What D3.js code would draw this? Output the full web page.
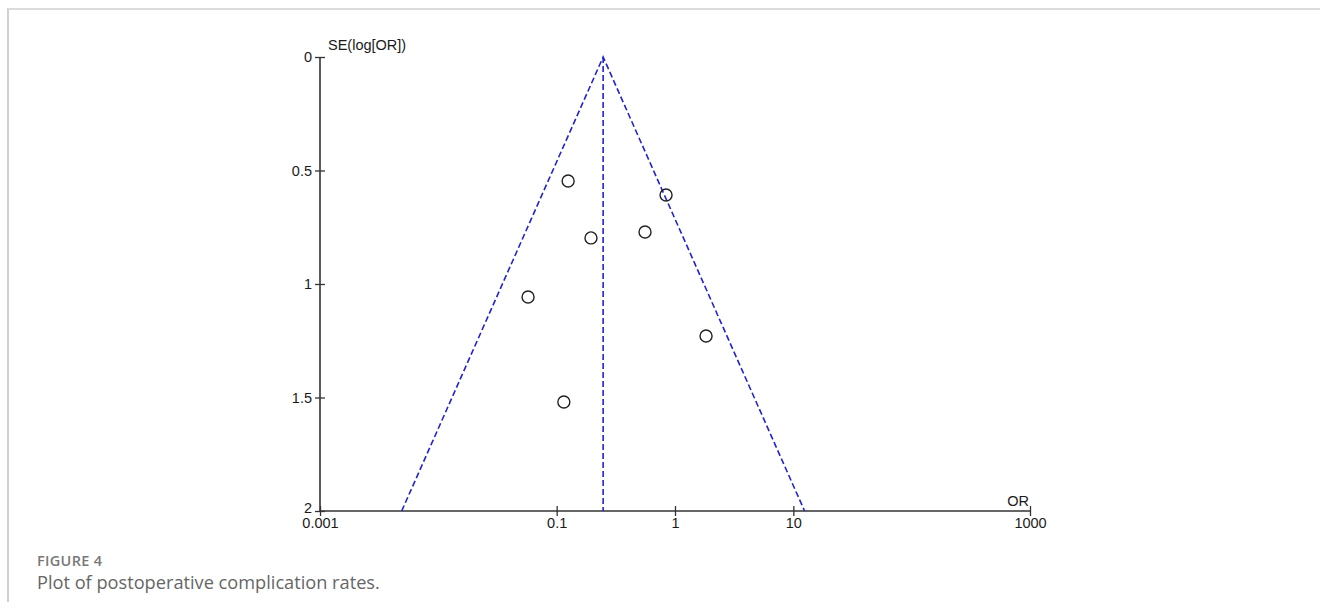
<!DOCTYPE html>
<html>
<head>
<meta charset="utf-8">
<style>
    body {
        margin: 0;
        background: #fff;
        font-family: 'Liberation Sans', Arial, sans-serif;
    }
    .frame {
        position: absolute;
        left: 7px;
        top: 8px;
        width: 1320px;
        height: 592px;
        border-top: 2px solid #dcdcdc;
        border-left: 2px solid #d0d0d0;
    }
    svg {
        position: absolute;
        left: 0;
        top: 0;
    }
    .tick text {
        font-size: 14.5px;
        fill: #1a1a1a;
    }
    .caption {
        position: absolute;
        left: 37px;
        top: 551px;
        font-family: 'Open Sans', 'Noto Sans', sans-serif;
        color: #6b6b6b;
    }
    .caption .fig {
        font-size: 14.5px;
        font-weight: 600;
        color: #787878;
        letter-spacing: 0.3px;
    }
    .caption .txt {
        font-size: 18.2px;
        margin-top: 0px;
        color: #666;
    }
</style>
</head>
<body>
<div class="frame"></div>
<svg width="1320" height="613"></svg>
<div class="caption">
    <div class="fig">FIGURE 4</div>
    <div class="txt">Plot of postoperative complication rates.</div>
</div>

<script src="https://d3js.org/d3.v7.min.js"></script>
<script>
    // study estimates
    let studyOR = [0.125, 0.84, 0.195, 0.558, 0.0573, 1.83, 0.115]
    let studySE = [0.546, 0.608, 0.797, 0.771, 1.057, 1.229, 1.520]
    let pooledOR = 0.247

    let xTicks = [0.001, 0.1, 1, 10, 1000]
    let yTicks = [0, 0.5, 1, 1.5, 2]

    let svg = d3.select("svg")

    let x = d3.scaleLog()
        .domain([0.001, 1000])
        .range([320, 1030])

    let y = d3.scaleLinear()
        .domain([0, 2])
        .range([57, 511])

    let axisColor = "#333"

    // axes
    let xAxis = svg.append("g")
        .attr("class", "x axis")
        .attr("transform", `translate(0,${y(2)})`)
        .call(d3.axisBottom(x)
            .tickValues(xTicks)
            .tickSize(5)
            .tickPadding(2)
            .tickFormat(d => String(d)))
    xAxis.select(".domain").remove()
    xAxis.selectAll(".tick line")
        .attr("y1", -5)
        .attr("y2", 5)
        .attr("stroke", axisColor)
        .attr("stroke-width", 1.3)
    xAxis.append("line")
        .attr("x1", x(0.001))
        .attr("x2", x(1000))
        .attr("stroke", axisColor)
        .attr("stroke-width", 1.6)

    let yAxis = svg.append("g")
        .attr("class", "y axis")
        .attr("transform", `translate(${x(0.001)},0)`)
        .call(d3.axisLeft(y)
            .tickValues(yTicks)
            .tickSize(5)
            .tickPadding(3)
            .tickFormat(d => String(d)))
    yAxis.select(".domain").remove()
    yAxis.selectAll(".tick line")
        .attr("x1", -5)
        .attr("x2", 5)
        .attr("stroke", axisColor)
        .attr("stroke-width", 1.3)
    yAxis.selectAll(".tick text").attr("dy", "0.32em")
    // the "2" sits just above the 0.001 label, as in the source
    yAxis.selectAll(".tick text").filter(d => d === 2).attr("dy", "0.1em")
    yAxis.append("line")
        .attr("y1", y(0))
        .attr("y2", y(2))
        .attr("stroke", axisColor)
        .attr("stroke-width", 1.6)

    // axis titles
    svg.append("text")
        .attr("x", x(0.001) + 8)
        .attr("y", y(0) - 7)
        .attr("font-size", 14.5)
        .attr("fill", "#1a1a1a")
        .text("SE(log[OR])")

    svg.append("text")
        .attr("x", x(1000) - 12)
        .attr("y", y(2) - 5)
        .attr("text-anchor", "middle")
        .attr("font-size", 14.5)
        .attr("fill", "#1a1a1a")
        .text("OR")

    // funnel (95% limits) and pooled estimate
    let funnel = svg.append("g")
        .attr("fill", "none")
        .attr("stroke", "#2323cc")
        .attr("stroke-width", 1.6)
        .attr("stroke-dasharray", "6,3")

    let seMax = 2
    let lo = pooledOR * Math.exp(-1.96 * seMax)
    let hi = pooledOR * Math.exp(1.96 * seMax)

    funnel.append("path")
        .attr("d", d3.line()([
            [x(lo), y(seMax)],
            [x(pooledOR), y(0)],
            [x(hi), y(seMax)]
        ]))

    funnel.append("line")
        .attr("x1", x(pooledOR))
        .attr("x2", x(pooledOR))
        .attr("y1", y(0))
        .attr("y2", y(seMax))

    // studies
    svg.append("g")
        .selectAll("circle")
        .data(studyOR.map((d, i) => ({ or: d, se: studySE[i] })))
        .join("circle")
        .attr("cx", d => x(d.or))
        .attr("cy", d => y(d.se))
        .attr("r", 6)
        .attr("fill", "none")
        .attr("stroke", "#222")
        .attr("stroke-width", 1.4)
</script>
</body>
</html>
